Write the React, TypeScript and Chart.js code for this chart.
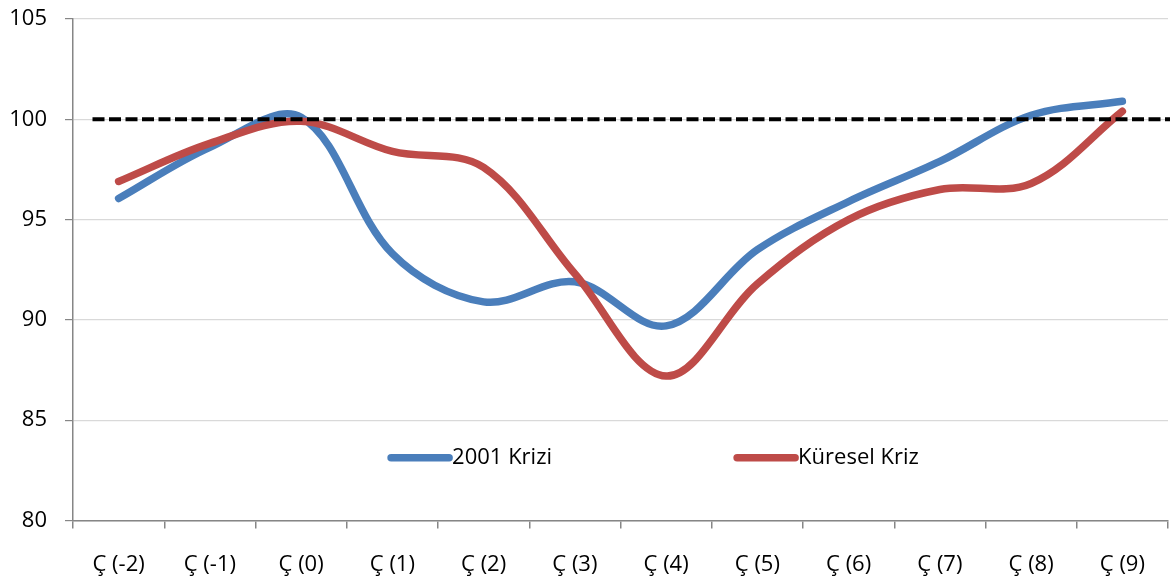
import React, { useEffect, useRef } from "react";
import { Chart, registerables } from "chart.js";

Chart.register(...registerables);

const categories = ["Ç (-2)", "Ç (-1)", "Ç (0)", "Ç (1)", "Ç (2)", "Ç (3)", "Ç (4)", "Ç (5)", "Ç (6)", "Ç (7)", "Ç (8)", "Ç (9)"];
const kriz2001 = [96.05, 98.6, 100.1, 93.3, 90.9, 91.9, 89.7, 93.5, 95.9, 97.9, 100.2, 100.9];
const kureselKriz = [96.9, 98.8, 99.9, 98.4, 97.6, 92.3, 87.2, 91.8, 95.0, 96.5, 96.8, 100.4];
const seriesNames = ["2001 Krizi", "Küresel Kriz"];
const referenceLevel = 100;
const yMin = 80;
const yMax = 105;
const yStep = 5;

const BLUE = "#4A7EBB";
const RED = "#BE4B48";
const FONT = "'Open Sans', sans-serif";
const FONT_SIZE = 22;

const refLinePlugin = {
  id: "refLine",
  afterDatasetsDraw(chart: any) {
    const { ctx, chartArea, scales } = chart;
    const y = scales.y.getPixelForValue(referenceLevel);
    ctx.save();
    ctx.beginPath();
    ctx.setLineDash([12, 4.5]);
    ctx.lineWidth = 4;
    ctx.strokeStyle = "#000";
    ctx.moveTo(chartArea.left + 19.5, y);
    ctx.lineTo(chart.width, y);
    ctx.stroke();
    ctx.restore();
  },
};

const legendPlugin = {
  id: "insideLegend",
  afterDraw(chart: any) {
    const { ctx, chartArea } = chart;
    const w = chartArea.right - chartArea.left;
    const y = chartArea.top + 0.875 * (chartArea.bottom - chartArea.top);
    const items = [
      { name: seriesNames[0], color: BLUE, x0: chartArea.left + 0.2905 * w },
      { name: seriesNames[1], color: RED, x0: chartArea.left + 0.6065 * w },
    ];
    ctx.save();
    items.forEach((it) => {
      ctx.beginPath();
      ctx.lineWidth = 7.5;
      ctx.lineCap = "round";
      ctx.strokeStyle = it.color;
      ctx.moveTo(it.x0, y);
      ctx.lineTo(it.x0 + 58, y);
      ctx.stroke();
      ctx.fillStyle = "#000";
      ctx.font = `${FONT_SIZE}px ${FONT}`;
      ctx.textAlign = "left";
      ctx.textBaseline = "middle";
      ctx.fillText(it.name, it.x0 + 61, y);
    });
    ctx.restore();
  },
};

export default function App() {
  const ref = useRef<HTMLCanvasElement | null>(null);

  useEffect(() => {
    document.body.style.margin = "0";
    if (!ref.current) return;
    const chart = new Chart(ref.current, {
      type: "line",
      data: {
        labels: categories,
        datasets: [
          {
            label: seriesNames[0],
            data: kriz2001,
            borderColor: BLUE,
            backgroundColor: BLUE,
            borderWidth: 7.5,
            pointRadius: 0,
            tension: 0.35,
            borderCapStyle: "round",
            borderJoinStyle: "round",
            order: 2,
          },
          {
            label: seriesNames[1],
            data: kureselKriz,
            borderColor: RED,
            backgroundColor: RED,
            borderWidth: 7.5,
            pointRadius: 0,
            tension: 0.35,
            borderCapStyle: "round",
            borderJoinStyle: "round",
            order: 1,
          },
        ],
      },
      options: {
        responsive: false,
        animation: false,
        layout: { padding: { top: 19, right: 2, left: 0, bottom: 0 } },
        plugins: {
          legend: { display: false },
          tooltip: { enabled: false },
        },
        scales: {
          x: {
            type: "category",
            offset: true,
            grid: {
              offset: true,
              drawOnChartArea: false,
              drawTicks: true,
              tickLength: 8,
              color: "#868686",
              lineWidth: 1.5,
            },
            border: { color: "#868686", width: 1.5 },
            ticks: {
              color: "#000",
              font: { family: FONT, size: FONT_SIZE },
              padding: 23,
              maxRotation: 0,
              autoSkip: false,
            },
            afterFit: (s: any) => {
              s.height = 63.5;
              s.paddingLeft = 0;
              s.paddingRight = 0;
            },
          },
          y: {
            min: yMin,
            max: yMax,
            grid: {
              color: "#d9d9d9",
              lineWidth: 1.2,
              tickColor: "#868686",
              tickLength: 8,
            },
            border: { color: "#868686", width: 1.5 },
            ticks: {
              stepSize: yStep,
              color: "#000",
              font: { family: FONT, size: FONT_SIZE },
              padding: 18,
            },
            afterFit: (s: any) => {
              s.width = 73;
              s.paddingTop = 0;
              s.paddingBottom = 0;
            },
          },
        },
      },
      plugins: [refLinePlugin, legendPlugin],
    });
    return () => chart.destroy();
  }, []);

  return (
    <div style={{ width: 1170, height: 584, position: "relative" }}>
      <canvas ref={ref} width={1170} height={584} />
    </div>
  );
}
